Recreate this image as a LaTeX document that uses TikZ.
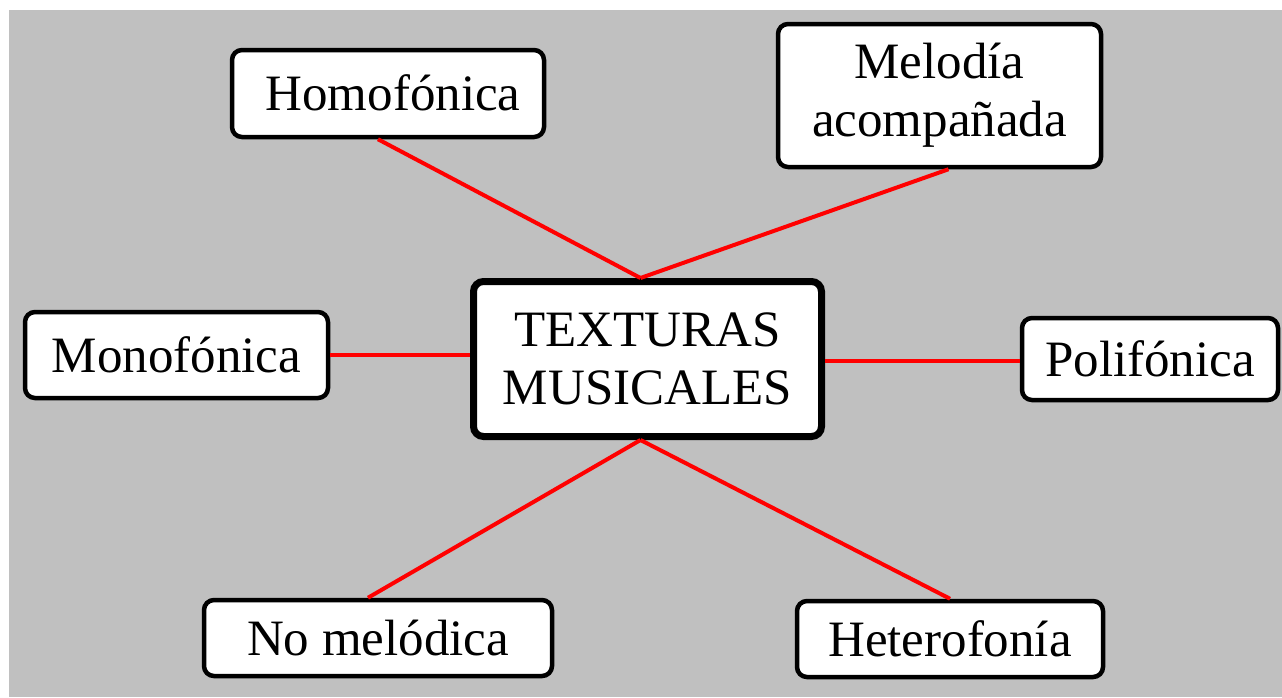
\documentclass[tikz,border=0pt]{standalone}
\usepackage{fontspec}
\setmainfont{Liberation Serif}
\definecolor{bggray}{HTML}{C0C0C0}
\definecolor{linkred}{HTML}{FF0000}
\begin{document}
\begin{tikzpicture}[x=1pt,y=-1pt,
  box/.style={draw=black, fill=white, line width=4.5pt, rounded corners=10pt,
    inner sep=0pt, font=\fontsize{51}{58}\selectfont, align=center},
  onel/.style={text height=34pt, text depth=0pt},
  link/.style={draw=linkred, line width=4pt}]
\useasboundingbox (0,0) rectangle (1282,697);
\fill[white] (0,0) rectangle (1282,697);
\fill[bggray] (9,10) rectangle (1282,697);
% nodes
\node[box, line width=7pt, minimum width=348pt, minimum height=155pt] (c) at (647.5,359) {TEXTURAS\\MUSICALES};
\node[box, onel, minimum width=312pt, minimum height=87pt] (homo) at (388,93.5) {\hspace*{10pt}Homofónica};
\node[box, minimum width=323pt, minimum height=143pt] (melo) at (939.5,95.5) {Melodía\\acompañada};
\node[box, onel, minimum width=303pt, minimum height=86pt] (mono) at (176.5,355) {Monofónica};
\node[box, onel, minimum width=256pt, minimum height=82pt] (poli) at (1150,359) {Polifónica};
\node[box, onel, minimum width=348pt, minimum height=76pt] (nomel) at (378,638) {No melódica};
\node[box, onel, minimum width=306pt, minimum height=76pt] (het) at (950,639) {Heterofonía};
% connectors
\draw[link] ([xshift=-10pt]homo.south) -- ([xshift=-7pt]c.north);
\draw[link] ([xshift=9pt]melo.south) -- ([xshift=-7pt]c.north);
\draw[link] (mono.east) -- (mono.east -| c.west);
\draw[link] ([yshift=-2pt]c.east) -- ([yshift=-2pt]c.east -| poli.west);
\draw[link] ([xshift=-10pt]nomel.north) -- ([xshift=-7pt]c.south);
\draw[link] (het.north) -- ([xshift=-7pt]c.south);
\end{tikzpicture}
\end{document}
